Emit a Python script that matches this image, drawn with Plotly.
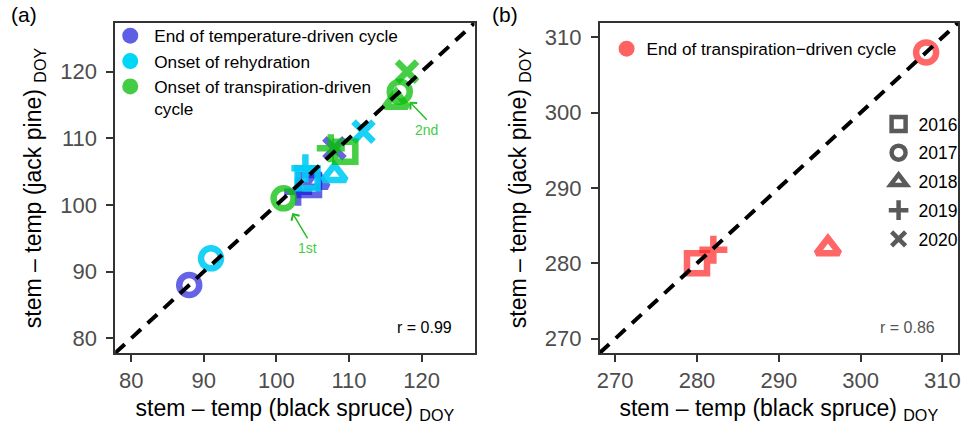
import plotly.graph_objects as go

# ---------------- data ----------------
years = ["2016", "2017", "2018", "2019", "2020"]
year_symbols = ["square-open", "circle-open", "triangle-up-open", "cross-thin-open", "x-thin-open"]

# panel (a) – spring events (black spruce x, jack pine y)
temp_end_year = ["2016", "2017", "2018", "2019", "2020"]
temp_end_x = [104.5, 88, 105.5, 103, 108]
temp_end_y = [103, 88, 103.5, 102, 108.5]

rehyd_year = ["2016", "2017", "2018", "2019", "2020"]
rehyd_x = [104.3, 91, 108, 104, 112]
rehyd_y = [104, 92, 104.5, 105.5, 111]

transp_on_year = ["2016", "2017", "2017", "2018", "2019", "2020"]
transp_on_x = [109.5, 101, 117, 116.5, 107.5, 118]
transp_on_y = [108, 101, 117, 115.5, 108.5, 120]

# panel (b) – autumn events
transp_end_year = ["2016", "2017", "2018", "2019"]
transp_end_x = [280, 308, 296, 282]
transp_end_y = [280, 308, 282, 281.8]

range_a = [77.8, 127.3]
range_b = [268.1, 311.9]
ticks_a = [80, 90, 100, 110, 120]
ticks_b = [270, 280, 290, 300, 310]

labels = {
    "temp_end": "End of temperature-driven cycle",
    "rehyd": "Onset of rehydration",
    "transp_on": "Onset of transpiration-driven<br>cycle",
    "transp_end": "End of transpiration\u2212driven cycle",
}
colors = {
    "temp_end": "rgba(20,20,215,0.66)",
    "rehyd": "rgba(0,205,245,0.9)",
    "transp_on": "rgba(10,190,10,0.75)",
    "transp_end": "rgba(255,30,30,0.68)",
}
legend_colors = {
    "temp_end": "#5f5fe6",
    "rehyd": "#00d6f6",
    "transp_on": "#44cc44",
    "transp_end": "#ff6262",
}

W, H = 964, 424
FONT = "Liberation Sans, Arial, sans-serif"


def px_x(p):
    return p / W


def px_y(p):
    return 1 - p / H


fig = go.Figure()

sym_of = dict(zip(years, year_symbols))


def add_series(key, xs, ys, yrs, xa, ya):
    fig.add_trace(go.Scatter(
        x=xs, y=ys, mode="markers", xaxis=xa, yaxis=ya, showlegend=False,
        marker=dict(symbol=[sym_of[y] for y in yrs], size=20,
                    color=colors[key],
                    line=dict(color=colors[key], width=6.5)),
        hoverinfo="x+y",
    ))


add_series("temp_end", temp_end_x, temp_end_y, temp_end_year, "x", "y")
add_series("rehyd", rehyd_x, rehyd_y, rehyd_year, "x", "y")
add_series("transp_on", transp_on_x, transp_on_y, transp_on_year, "x", "y")
add_series("transp_end", transp_end_x, transp_end_y, transp_end_year, "x2", "y2")

# 1:1 lines (on top)
for xa, ya, rng in [("x", "y", range_a), ("x2", "y2", range_b)]:
    fig.add_trace(go.Scatter(x=rng, y=rng, mode="lines", xaxis=xa, yaxis=ya,
                             line=dict(color="black", width=4, dash="13px,9px"),
                             showlegend=False, hoverinfo="skip"))

# legend entries (a)
for key in ["temp_end", "rehyd", "transp_on"]:
    fig.add_trace(go.Scatter(x=[None], y=[None], mode="markers", name=labels[key],
                             xaxis="x", yaxis="y", legend="legend",
                             marker=dict(symbol="circle", size=18, color=legend_colors[key])))
# legend entry (b)
fig.add_trace(go.Scatter(x=[None], y=[None], mode="markers", name=labels["transp_end"],
                         xaxis="x2", yaxis="y2", legend="legend2",
                         marker=dict(symbol="circle", size=18, color=legend_colors["transp_end"])))
# year shape legend
for yr, sym in zip(years, year_symbols):
    fig.add_trace(go.Scatter(x=[None], y=[None], mode="markers", name=yr,
                             xaxis="x2", yaxis="y2", legend="legend3", legendgroup=yr,
                             marker=dict(symbol=sym, size=14, color="#5a5a5a",
                                         line=dict(color="#5a5a5a", width=4.5))))

axis_common = dict(
    showgrid=False, zeroline=False, showline=True, mirror=True,
    linecolor="#333333", linewidth=1.5, ticks="outside", ticklen=7,
    tickwidth=1.5, tickcolor="#333333",
    tickfont=dict(family=FONT, size=22, color="#4d4d4d"),
    title_font=dict(family=FONT, size=23, color="black"),
)

xtitle = "stem \u2013 temp (black spruce) <sub>DOY</sub>"
ytitle = "stem \u2013 temp (jack pine) <sub>DOY</sub>"

fig.update_layout(
    width=W, height=H,
    margin=dict(l=0, r=0, t=0, b=0),
    plot_bgcolor="white", paper_bgcolor="white",
    font=dict(family=FONT),
    xaxis=dict(domain=[px_x(113), px_x(475)], range=range_a, tickvals=ticks_a,
               anchor="y", title=dict(text=xtitle, standoff=11), **axis_common),
    yaxis=dict(domain=[px_y(353), px_y(23)], range=range_a, tickvals=ticks_a,
               anchor="x", ticklabelstandoff=5, title=dict(text=ytitle, standoff=12),
               **axis_common),
    xaxis2=dict(domain=[px_x(601), px_x(962)], range=range_b, tickvals=ticks_b,
                anchor="y2", title=dict(text=xtitle, standoff=11), **axis_common),
    yaxis2=dict(domain=[px_y(353), px_y(23)], range=range_b, tickvals=ticks_b,
                anchor="x2", ticklabelstandoff=5, title=dict(text=ytitle, standoff=12),
                **axis_common),
    legend=dict(x=px_x(104), y=px_y(18), xanchor="left", yanchor="top", valign="top",
                bgcolor="rgba(0,0,0,0)", font=dict(family=FONT, size=17.2, color="black"),
                itemsizing="trace", itemwidth=38, tracegroupgap=0),
    legend2=dict(x=px_x(608), y=px_y(31), xanchor="left", yanchor="top",
                 bgcolor="rgba(0,0,0,0)", font=dict(family=FONT, size=17.2, color="black"),
                 itemsizing="trace", itemwidth=30),
    legend3=dict(x=px_x(882), y=px_y(106), xanchor="left", yanchor="top",
                 bgcolor="rgba(0,0,0,0)", font=dict(family=FONT, size=17.5, color="black"),
                 itemsizing="trace", itemwidth=30, tracegroupgap=3),
    annotations=[
        dict(text="(a)", x=px_x(6), y=px_y(15), xref="paper", yref="paper",
             showarrow=False, xanchor="left", yanchor="middle",
             font=dict(family=FONT, size=21, color="black")),
        dict(text="(b)", x=px_x(491), y=px_y(15), xref="paper", yref="paper",
             showarrow=False, xanchor="left", yanchor="middle",
             font=dict(family=FONT, size=21, color="black")),
        dict(text="r = 0.99", x=px_x(454), y=px_y(327), xref="paper", yref="paper",
             showarrow=False, xanchor="right", yanchor="middle",
             font=dict(family=FONT, size=16, color="black")),
        dict(text="r = 0.86", x=px_x(941), y=px_y(327), xref="paper", yref="paper",
             showarrow=False, xanchor="right", yanchor="middle",
             font=dict(family=FONT, size=16, color="#555555")),
        # arrows to the two green onsets in 2017
        dict(text="1st", x=transp_on_x[1], y=transp_on_y[1], xref="x", yref="y",
             ax=24, ay=40, showarrow=True, arrowhead=4, arrowsize=1.3, arrowwidth=1.4,
             arrowcolor="#22bb22", standoff=17, yanchor="top",
             font=dict(family=FONT, size=14, color="#44cc44")),
        dict(text="2nd", x=transp_on_x[2], y=transp_on_y[2], xref="x", yref="y",
             ax=27, ay=28, showarrow=True, arrowhead=4, arrowsize=1.3, arrowwidth=1.4,
             arrowcolor="#22bb22", standoff=14, yanchor="top",
             font=dict(family=FONT, size=14, color="#44cc44")),
    ],
)

fig.write_html("out.html")
